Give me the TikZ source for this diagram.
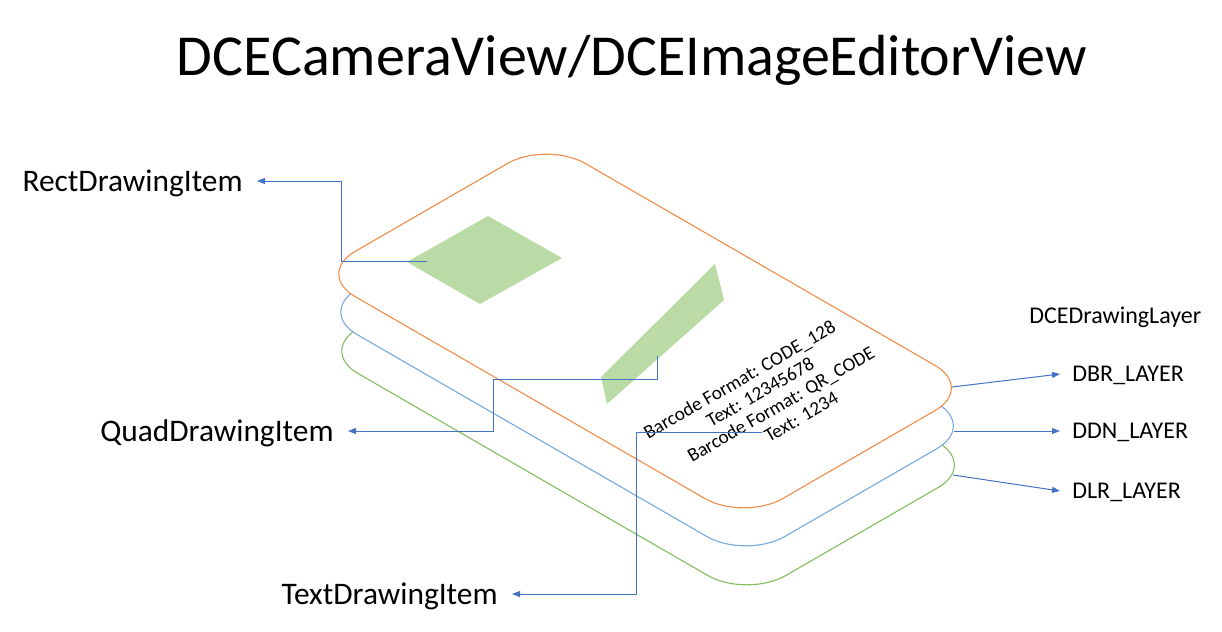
\documentclass[tikz,border=0pt]{standalone}
\usepackage{fontspec}
\setmainfont{Carlito}
\usetikzlibrary{arrows.meta}

\definecolor{layerorange}{RGB}{242,140,72}
\definecolor{layerblue}{RGB}{118,170,226}
\definecolor{layergreen}{RGB}{132,190,96}
\definecolor{itemgreen}{RGB}{187,219,166}
\definecolor{leaderblue}{RGB}{68,114,196}

\begin{document}
\begin{tikzpicture}[x=0.5pt, y=-0.5pt,
    layer/.style = {line width=0.55pt, fill=white},
    item/.style = {fill=itemgreen},
    leader/.style = {leaderblue, line width=0.5pt, -{Triangle[length=4pt, width=3pt]}},
    itemlbl/.style = {font=\fontsize{15.7}{18}\selectfont, text height=10.1pt, text depth=0pt, inner xsep=7pt, inner ysep=0pt, anchor=east},
    layerlbl/.style = {font=\fontsize{12}{14}\selectfont, text height=7.7pt, text depth=0pt, inner xsep=6pt, inner ysep=0pt, anchor=west},
    result/.style = {font=\fontsize{9.6}{10.5}\selectfont, rotate=30, inner sep=0pt, anchor=base west}]

    \useasboundingbox (0,0) rectangle (1222,632);

    % title
    \node[anchor=base, inner sep=0pt] (title) at (632,75) {\fontsize{29}{34}\selectfont DCECameraView/DCEImageEditorView};

    % layers, bottom one first
    \foreach \lx/\ly/\lcol in {319/351/layergreen, 318/312/layerblue, 316/274/layerorange}
        \draw[layer, draw=\lcol, shift={(\lx,\ly)}, x={(0.433pt,-0.25pt)}, y={(0.433pt,0.25pt)}]
            (45,0) -- (449,0) .. controls (473.85,0) and (494,20.15) .. (494,45)
            -- (494,221) .. controls (494,245.85) and (473.85,266) .. (449,266)
            -- (45,266) .. controls (20.15,266) and (0,245.85) .. (0,221)
            -- (0,45) .. controls (0,20.15) and (20.15,0) .. (45,0) -- cycle;

    % drawing items
    \fill[item] (407,262) -- (488,216) -- (562,258) -- (480,304) -- cycle;
    \fill[item] (601,377) -- (715,264) -- (724,300) -- (607,404) -- cycle;
    \node[result] (results) at (648,440) {\begin{tabular}[t]{@{}l@{}}
        Barcode Format: CODE\_128\\
        \hspace*{30.2pt}Text: 12345678\\
        \hspace*{13.2pt}Barcode Format: QR\_CODE\\
        \hspace*{51.5pt}Text: 1234
    \end{tabular}};

    % labels
    \node[itemlbl] (rectlbl) at (257,181) {RectDrawingItem};
    \node[itemlbl] (quadlbl) at (348,431) {QuadDrawingItem};
    \node[itemlbl] (textlbl) at (512,594) {TextDrawingItem};
    \node[layerlbl, inner xsep=0pt] (layerhdr) at (1029,316) {DCEDrawingLayer};
    \node[layerlbl] (dbr) at (1060,374) {DBR\_LAYER};
    \node[layerlbl] (ddn) at (1060,431) {DDN\_LAYER};
    \node[layerlbl] (dlr) at (1060,491) {DLR\_LAYER};

    % leaders
    \coordinate (rectpin) at (427,261);
    \coordinate (quadpin) at (657,356);
    \coordinate (textpin) at (762,432);
    \coordinate (dbrpin) at (952,387);
    \coordinate (ddnpin) at (954,431);
    \coordinate (dlrpin) at (953,475);
    \draw[leader] (rectpin) -- (341,261) |- (rectlbl.east);
    \draw[leader] (quadpin) |- (493,379) |- (quadlbl.east);
    \draw[leader] (textpin) -- (636,432) |- (textlbl.east);
    \draw[leader] (dbrpin) -- (dbr.west);
    \draw[leader] (ddnpin) -- (ddn.west);
    \draw[leader] (dlrpin) -- (dlr.west);

\end{tikzpicture}
\end{document}
